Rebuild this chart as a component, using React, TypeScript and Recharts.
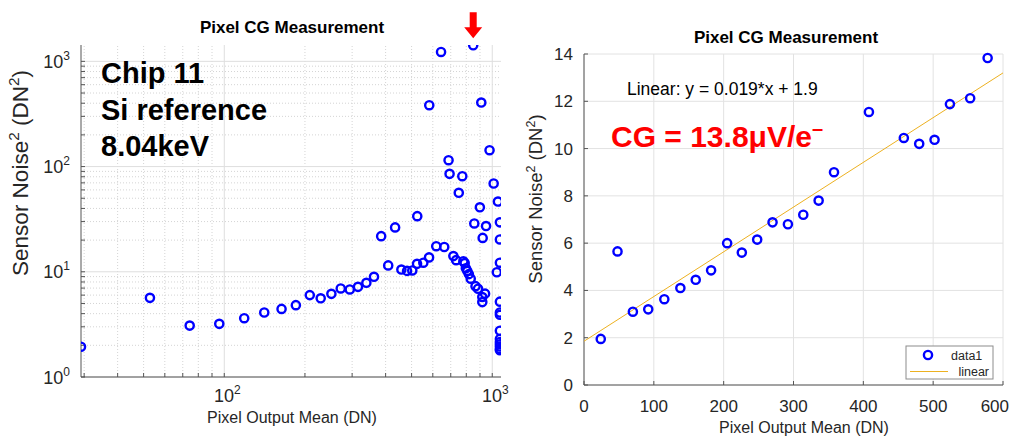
import React from 'react';
import { ScatterChart, Scatter, XAxis, YAxis, CartesianGrid, ReferenceLine, ReferenceDot } from 'recharts';

const FONT = '"Liberation Sans", Arial, Helvetica, sans-serif';
const BLUE = '#0000FF';
const RED = '#FF0000';
const AXIS = '#555555';
const TEXT = '#262626';
const FIT_COLOR = '#EDB120';

// ---------- Left chart (log-log) ----------
const LOG_X = [
  29.2, 52.8, 74.3, 95.8, 118.7, 141, 163.6, 185, 208.5, 229, 251, 272, 294, 315.5, 339, 362,
  385, 409, 434, 458, 481, 503, 525, 524, 553, 581, 582, 618, 644, 662, 687, 693,
  716, 733, 750, 773, 780, 789, 797, 807, 818, 831, 849, 857, 866, 885, 899, 910,
  918, 918, 921, 940, 948, 977, 1012, 1040, 1050,
  1068, 1068, 1068, 1068, 1068, 1068, 1068, 1068, 1068, 1068, 1068, 1068, 1068,
];
const LOG_Y = [
  1.94, 5.65, 3.08, 3.2, 3.62, 4.1, 4.44, 4.82, 6.0, 5.6, 6.17, 6.94, 6.79, 7.19, 7.86, 8.96,
  21.8, 11.5, 26.4, 10.5, 10.2, 10.3, 33.8, 11.9, 12.2, 13.7, 383, 17.5, 1228, 17.2, 115, 85.3,
  14.1, 12.9, 56.3, 81, 12.6, 12.1, 10.8, 10.2, 9.5, 8.6, 1422, 28.8, 7.3, 6.9, 41, 406,
  5.75, 5.15, 21, 6.2, 27.2, 143, 69, 9.9, 46.5,
  12.2, 20.3, 29.5, 5.2, 4.1, 3.9, 2.75, 2.3, 2.15, 2.05, 1.95, 1.85, 1.8,
];
const LOG_X_DOMAIN: [number, number] = [29.2, 1078];
const LOG_Y_DOMAIN: [number, number] = [1, 1430];
const LOG_X_MAJOR = [100, 1000];
const LOG_X_MINOR = [30, 40, 50, 60, 70, 80, 90, 200, 300, 400, 500, 600, 700, 800, 900];
const LOG_Y_MAJOR = [1, 10, 100, 1000];
const LOG_Y_MINOR = [2, 3, 4, 5, 6, 7, 8, 9, 20, 30, 40, 50, 60, 70, 80, 90, 200, 300, 400, 500, 600, 700, 800, 900];
const ARROW_X = 849;
const ARROW_Y = 1422;
const LEFT_ANNOTATION = ['Chip 11', 'Si reference', '8.04keV'];

// ---------- Right chart (linear) ----------
const LIN_X = [24, 48, 70, 92, 115, 138, 160, 182, 205, 226, 248, 270, 292, 314, 336, 358, 408, 458, 480, 502, 524, 553, 578];
const LIN_Y = [1.95, 5.65, 3.1, 3.2, 3.63, 4.1, 4.45, 4.85, 6.0, 5.6, 6.15, 6.88, 6.8, 7.2, 7.8, 9.0, 11.55, 10.45, 10.2, 10.37, 11.88, 12.13, 13.83];
const LIN_X_TICKS = [0, 100, 200, 300, 400, 500, 600];
const LIN_Y_TICKS = [0, 2, 4, 6, 8, 10, 12, 14];
const FIT_X = [0, 600];
const FIT_Y = [1.85, 13.2];

const TITLE = 'Pixel CG Measurement';
const X_LABEL = 'Pixel Output Mean (DN)';
const FIT_TEXT = 'Linear: y = 0.019*x + 1.9';
const CG_TEXT = 'CG = 13.8μV/e';
const LEGEND_ITEMS = ['data1', 'linear'];

const logData = LOG_X.map((x, i) => ({ x, y: LOG_Y[i] }));
const linData = LIN_X.map((x, i) => ({ x, y: LIN_Y[i] }));
const fitData = FIT_X.map((x, i) => ({ x, y: FIT_Y[i] }));

const Ring = (p: any) => {
  if (p.cx == null || p.cy == null) return <g />;
  return <circle cx={p.cx} cy={p.cy} r={4.1} fill="none" stroke={BLUE} strokeWidth={2.4} />;
};
const NoShape = () => <g />;
const EmptyTick = () => <g />;

const isPow10 = (v: number) => {
  const e = Math.round(Math.log10(v));
  return Math.abs(Math.pow(10, e) - v) < 1e-6;
};

const LogYTick = (props: any) => {
  const { x, y, payload } = props;
  const v = payload.value;
  if (!isPow10(v)) return <g />;
  const e = Math.round(Math.log10(v));
  return (
    <text x={x} y={y + 6.5} textAnchor="end" fontFamily={FONT} fontSize={18} fill={TEXT}>
      <tspan>10</tspan>
      <tspan dy={-8} fontSize={12}>{e}</tspan>
    </text>
  );
};

const LogXTick = (props: any) => {
  const { x, y, payload } = props;
  const v = payload.value;
  if (!isPow10(v)) return <g />;
  const e = Math.round(Math.log10(v));
  return (
    <text x={x + 3} y={y + 17} textAnchor="middle" fontFamily={FONT} fontSize={18} fill={TEXT}>
      <tspan>10</tspan>
      <tspan dy={-8} fontSize={12}>{e}</tspan>
    </text>
  );
};

const LinXTick = (props: any) => {
  const { x, y, payload } = props;
  const v = payload.value;
  const last = v === LIN_X_TICKS[LIN_X_TICKS.length - 1];
  return (
    <text x={last ? x + 6 : x} y={y + 13} textAnchor={last ? 'end' : 'middle'} fontFamily={FONT} fontSize={17} fill={TEXT}>
      {v}
    </text>
  );
};

const Arrow = (p: any) => {
  const { cx, cy } = p;
  if (cx == null || cy == null) return <g />;
  const tip = cy - 7;
  const top = cy - 33;
  const headTop = cy - 18;
  return (
    <path
      d={`M ${cx - 3.5} ${top} L ${cx + 3.5} ${top} L ${cx + 3.5} ${headTop} L ${cx + 9} ${headTop} L ${cx} ${tip} L ${cx - 9} ${headTop} L ${cx - 3.5} ${headTop} Z`}
      fill={RED}
    />
  );
};

const tickStyle = { fontFamily: FONT, fontSize: 17, fill: TEXT };

const YLabel = ({ x, y, size }: { x: number; y: number; size: number }) => (
  <text transform={`translate(${x},${y}) rotate(-90)`} textAnchor="middle" fontFamily={FONT} fontSize={size} fill={TEXT}>
    <tspan>Sensor Noise</tspan>
    <tspan dy={-size * 0.4} fontSize={size * 0.68}>2</tspan>
    <tspan dy={size * 0.4}> (DN</tspan>
    <tspan dy={-size * 0.4} fontSize={size * 0.68}>2</tspan>
    <tspan dy={size * 0.4}>)</tspan>
  </text>
);

export default function App() {
  return (
    <div style={{ position: 'absolute', left: 0, top: 0, width: 1012, height: 437, background: '#fff', overflow: 'hidden' }}>
      <div style={{ position: 'absolute', left: 0, top: 0 }}>
        <ScatterChart width={520} height={437} margin={{ top: 45, right: 19, bottom: 30, left: 21 }}>
          {LOG_X_MINOR.map((v) => (
            <ReferenceLine key={'vx' + v} x={v} stroke="#d4d4d4" strokeDasharray="1 2" />
          ))}
          {LOG_Y_MINOR.map((v) => (
            <ReferenceLine key={'vy' + v} y={v} stroke="#d4d4d4" strokeDasharray="1 2" />
          ))}
          {LOG_X_MAJOR.map((v) => (
            <ReferenceLine key={'mx' + v} x={v} stroke="#dedede" />
          ))}
          {LOG_Y_MAJOR.map((v) => (
            <ReferenceLine key={'my' + v} y={v} stroke="#dedede" />
          ))}
          <XAxis
            dataKey="x"
            type="number"
            scale="log"
            domain={LOG_X_DOMAIN}
            allowDataOverflow
            ticks={[...LOG_X_MINOR, ...LOG_X_MAJOR].sort((a, b) => a - b)}
            interval={0}
            height={30}
            tickSize={-4}
            tickMargin={12}
            tick={<LogXTick />}
            stroke={AXIS}
          />
          <XAxis
            xAxisId="top"
            orientation="top"
            dataKey="x"
            type="number"
            scale="log"
            domain={LOG_X_DOMAIN}
            allowDataOverflow
            ticks={[...LOG_X_MINOR, ...LOG_X_MAJOR].sort((a, b) => a - b)}
            interval={0}
            height={0}
            tickSize={-4}
            tick={<EmptyTick />}
            stroke={AXIS}
          />
          <YAxis
            dataKey="y"
            type="number"
            scale="log"
            domain={LOG_Y_DOMAIN}
            allowDataOverflow
            ticks={[...LOG_Y_MINOR, ...LOG_Y_MAJOR].sort((a, b) => a - b)}
            interval={0}
            width={60}
            tickSize={-4}
            tickMargin={15}
            tick={<LogYTick />}
            stroke={AXIS}
          />
          <YAxis
            yAxisId="right"
            orientation="right"
            dataKey="y"
            type="number"
            scale="log"
            domain={LOG_Y_DOMAIN}
            allowDataOverflow
            ticks={[...LOG_Y_MINOR, ...LOG_Y_MAJOR].sort((a, b) => a - b)}
            interval={0}
            width={0}
            tickSize={-4}
            tick={<EmptyTick />}
            stroke={AXIS}
          />
          <Scatter data={logData} shape={<Ring />} isAnimationActive={false} />
          <ReferenceDot x={ARROW_X} y={ARROW_Y} shape={<Arrow />} ifOverflow="visible" />
        </ScatterChart>
      </div>

      <div style={{ position: 'absolute', left: 520, top: 0 }}>
        <ScatterChart width={492} height={437} margin={{ top: 54, right: 9, bottom: 22, left: 14 }}>
          <CartesianGrid stroke="#e2e2e2" />
          <XAxis
            dataKey="x"
            type="number"
            domain={[0, 600]}
            ticks={LIN_X_TICKS}
            interval={0}
            height={30}
            tickSize={-4}
            tickMargin={18}
            tick={<LinXTick />}
            stroke={AXIS}
          />
          <XAxis xAxisId="top" orientation="top" dataKey="x" type="number" domain={[0, 600]} ticks={LIN_X_TICKS} interval={0} height={0} tickSize={-4} tick={<EmptyTick />} stroke={AXIS} />
          <YAxis
            dataKey="y"
            type="number"
            domain={[0, 14]}
            ticks={LIN_Y_TICKS}
            interval={0}
            width={50}
            tickSize={-4}
            tickMargin={15}
            tick={tickStyle}
            stroke={AXIS}
          />
          <YAxis yAxisId="right" orientation="right" dataKey="y" type="number" domain={[0, 14]} ticks={LIN_Y_TICKS} interval={0} width={0} tickSize={-4} tick={<EmptyTick />} stroke={AXIS} />
          <Scatter data={fitData} line={{ stroke: FIT_COLOR, strokeWidth: 1 }} shape={<NoShape />} isAnimationActive={false} />
          <Scatter data={linData} shape={<Ring />} isAnimationActive={false} />
        </ScatterChart>
      </div>

      <svg width={1012} height={437} style={{ position: 'absolute', left: 0, top: 0, pointerEvents: 'none' }}>
        {/* Left chart texts */}
        <text x={292} y={33} textAnchor="middle" fontFamily={FONT} fontSize={17} fontWeight="bold" fill="#000">{TITLE}</text>
        {LEFT_ANNOTATION.map((t, i) => (
          <text key={t} x={101} y={83 + i * 36.5} fontFamily={FONT} fontSize={29} fontWeight="bold" fill="#000">{t}</text>
        ))}
        <text x={292} y={423} textAnchor="middle" fontFamily={FONT} fontSize={16} fill={TEXT}>{X_LABEL}</text>
        <YLabel x={28} y={173} size={22.5} />

        {/* Right chart texts */}
        <text x={786} y={43} textAnchor="middle" fontFamily={FONT} fontSize={17} fontWeight="bold" fill="#000">{TITLE}</text>
        <text x={627} y={95} fontFamily={FONT} fontSize={17.5} fill="#000">{FIT_TEXT}</text>
        <text x={611} y={147} fontFamily={FONT} fontSize={30} fontWeight="bold" fill={RED}>
          {CG_TEXT}
          <tspan dy={-12} fontSize={20}>–</tspan>
        </text>
        <text x={804} y={433} textAnchor="middle" fontFamily={FONT} fontSize={16} fill={TEXT}>{X_LABEL}</text>
        <YLabel x={542} y={199} size={18.5} />

        {/* Legend */}
        <rect x={906} y={346} width={87} height={33} fill="#fff" stroke="#8c8c8c" strokeWidth={1} />
        <circle cx={928} cy={355} r={4.1} fill="none" stroke={BLUE} strokeWidth={2.4} />
        <text x={951} y={360} fontFamily={FONT} fontSize={12.5} fill={TEXT}>{LEGEND_ITEMS[0]}</text>
        <line x1={910} y1={371.5} x2={948} y2={371.5} stroke={FIT_COLOR} strokeWidth={1} />
        <text x={989} y={376} textAnchor="end" fontFamily={FONT} fontSize={12.5} fill={TEXT}>{LEGEND_ITEMS[1]}</text>
      </svg>
    </div>
  );
}
